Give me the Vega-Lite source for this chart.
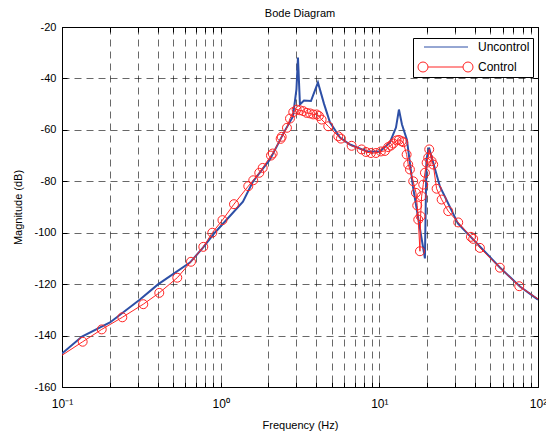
{
  "$schema": "https://vega.github.io/schema/vega-lite/v6.json",
  "width": 476,
  "height": 360,
  "autosize": "none",
  "padding": {"left": 62, "top": 27, "right": 8, "bottom": 48},
  "background": "white",
  "title": {"text": "Bode Diagram", "font": "Liberation Sans", "fontSize": 11, "fontWeight": "normal", "color": "#000", "offset": 2, "anchor": "middle"},
  "config": {
    "view": {"stroke": "#000", "strokeWidth": 1},
    "font": "Liberation Sans"
  },
  "datasets": {
    "uncontrol": [
      {"f": 0.1, "db": -147.0}, {"f": 0.1337, "db": -140.4}, {"f": 0.2007, "db": -134.9}, {"f": 0.31, "db": -126.0},
      {"f": 0.4027, "db": -120.1}, {"f": 0.6406, "db": -111.6}, {"f": 0.7738, "db": -105.8}, {"f": 0.921, "db": -99.9},
      {"f": 1.382, "db": -87.9}, {"f": 1.598, "db": -80.1}, {"f": 2.045, "db": -71.5}, {"f": 2.541, "db": -60.3},
      {"f": 2.855, "db": -54.8}, {"f": 3.003, "db": -44.3}, {"f": 3.07, "db": -31.9}, {"f": 3.16, "db": -50.1},
      {"f": 3.349, "db": -48.6}, {"f": 3.707, "db": -48.8}, {"f": 4.103, "db": -41.6}, {"f": 4.477, "db": -49.8},
      {"f": 4.884, "db": -57.1}, {"f": 5.646, "db": -63.0}, {"f": 6.525, "db": -65.7}, {"f": 8.354, "db": -68.4},
      {"f": 10.09, "db": -68.4}, {"f": 11.66, "db": -64.9}, {"f": 12.73, "db": -59.1}, {"f": 13.29, "db": -52.1},
      {"f": 13.89, "db": -57.9}, {"f": 14.92, "db": -63.8}, {"f": 16.28, "db": -82.0}, {"f": 19.38, "db": -110.0},
      {"f": 19.81, "db": -71.5}, {"f": 20.54, "db": -66.9}, {"f": 24.09, "db": -82.0}, {"f": 31.27, "db": -96.4},
      {"f": 57.5, "db": -113.5}, {"f": 76.9, "db": -120.9}, {"f": 100, "db": -126.0}
    ],
    "control": [
      {"f": 0.088, "db": -149.9}, {"f": 0.135, "db": -142.4}, {"f": 0.178, "db": -137.6}, {"f": 0.24, "db": -132.9},
      {"f": 0.3253, "db": -127.8}, {"f": 0.4103, "db": -123.4}, {"f": 0.5328, "db": -117.5}, {"f": 0.65, "db": -111.3},
      {"f": 0.7773, "db": -105.5}, {"f": 0.8854, "db": -100.0}, {"f": 1.026, "db": -95.1}, {"f": 1.213, "db": -88.9},
      {"f": 1.493, "db": -81.9}, {"f": 1.605, "db": -79.6}, {"f": 1.751, "db": -76.7}, {"f": 1.84, "db": -74.8},
      {"f": 2.075, "db": -70.0}, {"f": 2.127, "db": -69.2}, {"f": 2.388, "db": -63.5}, {"f": 2.424, "db": -62.7},
      {"f": 2.617, "db": -59.2}, {"f": 2.734, "db": -55.6}, {"f": 2.868, "db": -53.1}, {"f": 3.012, "db": -52.1},
      {"f": 3.16, "db": -52.4}, {"f": 3.315, "db": -52.7}, {"f": 3.483, "db": -53.4}, {"f": 3.654, "db": -53.6},
      {"f": 3.83, "db": -54.0}, {"f": 4.025, "db": -54.0}, {"f": 4.162, "db": -54.6}, {"f": 4.328, "db": -56.0},
      {"f": 4.764, "db": -58.6}, {"f": 5.508, "db": -62.5}, {"f": 5.728, "db": -63.4}, {"f": 6.69, "db": -66.2},
      {"f": 7.734, "db": -67.6}, {"f": 8.234, "db": -68.6}, {"f": 8.853, "db": -69.0}, {"f": 9.519, "db": -69.0},
      {"f": 10.23, "db": -68.4}, {"f": 10.85, "db": -68.2}, {"f": 11.38, "db": -66.7}, {"f": 11.83, "db": -66.1},
      {"f": 12.24, "db": -65.3}, {"f": 12.85, "db": -64.1}, {"f": 13.29, "db": -63.9}, {"f": 13.82, "db": -64.4},
      {"f": 14.15, "db": -64.8}, {"f": 14.86, "db": -69.6}, {"f": 15.21, "db": -73.5}, {"f": 15.59, "db": -75.4},
      {"f": 16.35, "db": -80.0}, {"f": 17.01, "db": -84.5}, {"f": 17.33, "db": -89.4}, {"f": 17.59, "db": -94.9},
      {"f": 18.03, "db": -107.2}, {"f": 18.2, "db": -93.6}, {"f": 18.47, "db": -85.8}, {"f": 18.91, "db": -81.3},
      {"f": 19.38, "db": -76.7}, {"f": 19.86, "db": -72.8}, {"f": 20.33, "db": -70.8}, {"f": 20.63, "db": -67.6},
      {"f": 21.36, "db": -72.2}, {"f": 21.86, "db": -73.5}, {"f": 22.96, "db": -82.9}, {"f": 24.7, "db": -87.1},
      {"f": 27.18, "db": -91.6}, {"f": 31.42, "db": -96.0}, {"f": 37.77, "db": -101.6}, {"f": 39.05, "db": -102.4},
      {"f": 43.05, "db": -105.9}, {"f": 57.54, "db": -113.6}, {"f": 76.13, "db": -120.8}, {"f": 117.2, "db": -128.7}
    ]
  },
  "resolve": {"axis": {"x": "independent", "y": "independent"}},
  "layer": [
    {
      "data": {"name": "uncontrol"},
      "transform": [{"calculate": "'Uncontrol'", "as": "series"}],
      "mark": {"type": "line", "strokeWidth": 2, "clip": true},
      "encoding": {
        "x": {"field": "f", "type": "quantitative", "scale": {"type": "log", "domain": [0.1, 100], "nice": false},
          "axis": {"orient": "bottom", "title": "Frequency (Hz)",
            "values": [0.1,0.2,0.3,0.4,0.5,0.6,0.7,0.8,0.9,1,2,3,4,5,6,7,8,9,10,20,30,40,50,60,70,80,90,100],
            "labelExpr": "datum.value == 0.1 ? '10⁻¹' : datum.value == 1 ? '10⁰' : datum.value == 10 ? '10¹' : datum.value == 100 ? '10²' : ''",
            "labelFlush": false, "labelOverlap": false, "labelBound": false,
            "grid": true, "gridColor": "#000", "gridDash": [7, 5], "gridWidth": 0.7, "gridOpacity": 0.85,
            "domain": false, "tickSize": -5, "tickColor": "#000", "tickWidth": 1,
            "labelFont": "Liberation Sans", "labelFontSize": 12, "labelColor": "#000", "labelPadding": 16,
            "titleFont": "Liberation Sans", "titleFontSize": 11, "titleFontWeight": "normal", "titleColor": "#000", "titlePadding": 10}},
        "y": {"field": "db", "type": "quantitative", "scale": {"domain": [-160, -20], "nice": false},
          "axis": {"orient": "left", "title": "Magnitude (dB)",
            "values": [-160,-140,-120,-100,-80,-60,-40,-20],
            "labelExpr": "'' + datum.value",
            "grid": true, "gridColor": "#000", "gridDash": [7, 5], "gridWidth": 0.7, "gridOpacity": 0.85,
            "domain": false, "tickSize": -5, "tickColor": "#000", "tickWidth": 1,
            "labelFont": "Liberation Sans", "labelFontSize": 11, "labelColor": "#000", "labelPadding": 11,
            "titleFont": "Liberation Sans", "titleFontSize": 11, "titleFontWeight": "normal", "titleColor": "#000", "titlePadding": 10}},
        "color": {"field": "series", "type": "nominal",
          "scale": {"domain": ["Uncontrol", "Control"], "range": ["#2d4fa6", "#ff2424"]},
          "legend": {"title": null, "orient": "none", "legendX": 351, "legendY": 11,
            "strokeColor": "#000", "fillColor": "#fff", "padding": 3, "rowPadding": 7,
            "symbolSize": 100, "labelOffset": 50, "labelFont": "Liberation Sans", "labelFontSize": 12, "labelColor": "#000",
            "symbolStrokeWidth": 1,
            "encode": {"symbols": {"update": {
              "shape": {"signal": "datum.value === 'Control' ? 'M-0.8,0A1,1,0,1,1,1.2,0A1,1,0,1,1,-0.8,0M8.2,0A1,1,0,1,1,10.2,0A1,1,0,1,1,8.2,0M1.2,0L8.2,0' : 'M0.4,0L9.2,0'"},
              "stroke": {"signal": "datum.value === 'Control' ? '#ff2424' : '#2d4fa6'"},
              "fill": {"value": "transparent"},
              "strokeWidth": {"value": 1}}}}}}
      }
    },
    {
      "data": {"name": "control"},
      "transform": [{"calculate": "'Control'", "as": "series"}],
      "mark": {"type": "line", "strokeWidth": 1, "clip": true},
      "encoding": {
        "x": {"field": "f", "type": "quantitative", "axis": null},
        "y": {"field": "db", "type": "quantitative", "axis": null},
        "color": {"field": "series", "type": "nominal"}
      }
    },
    {
      "data": {"name": "control"},
      "transform": [{"calculate": "'Control'", "as": "series"}],
      "mark": {"type": "point", "shape": "circle", "size": 80, "strokeWidth": 1, "filled": false, "clip": true, "opacity": 1},
      "encoding": {
        "x": {"field": "f", "type": "quantitative",
          "axis": {"orient": "top", "title": null, "labels": false, "grid": false, "domain": false,
            "values": [0.1,0.2,0.3,0.4,0.5,0.6,0.7,0.8,0.9,1,2,3,4,5,6,7,8,9,10,20,30,40,50,60,70,80,90,100],
            "tickSize": -5, "tickColor": "#000"}},
        "y": {"field": "db", "type": "quantitative",
          "axis": {"orient": "right", "title": null, "labels": false, "grid": false, "domain": false,
            "values": [-160,-140,-120,-100,-80,-60,-40,-20], "tickSize": -5, "tickColor": "#000"}},
        "color": {"field": "series", "type": "nominal"}
      }
    }
  ]
}
